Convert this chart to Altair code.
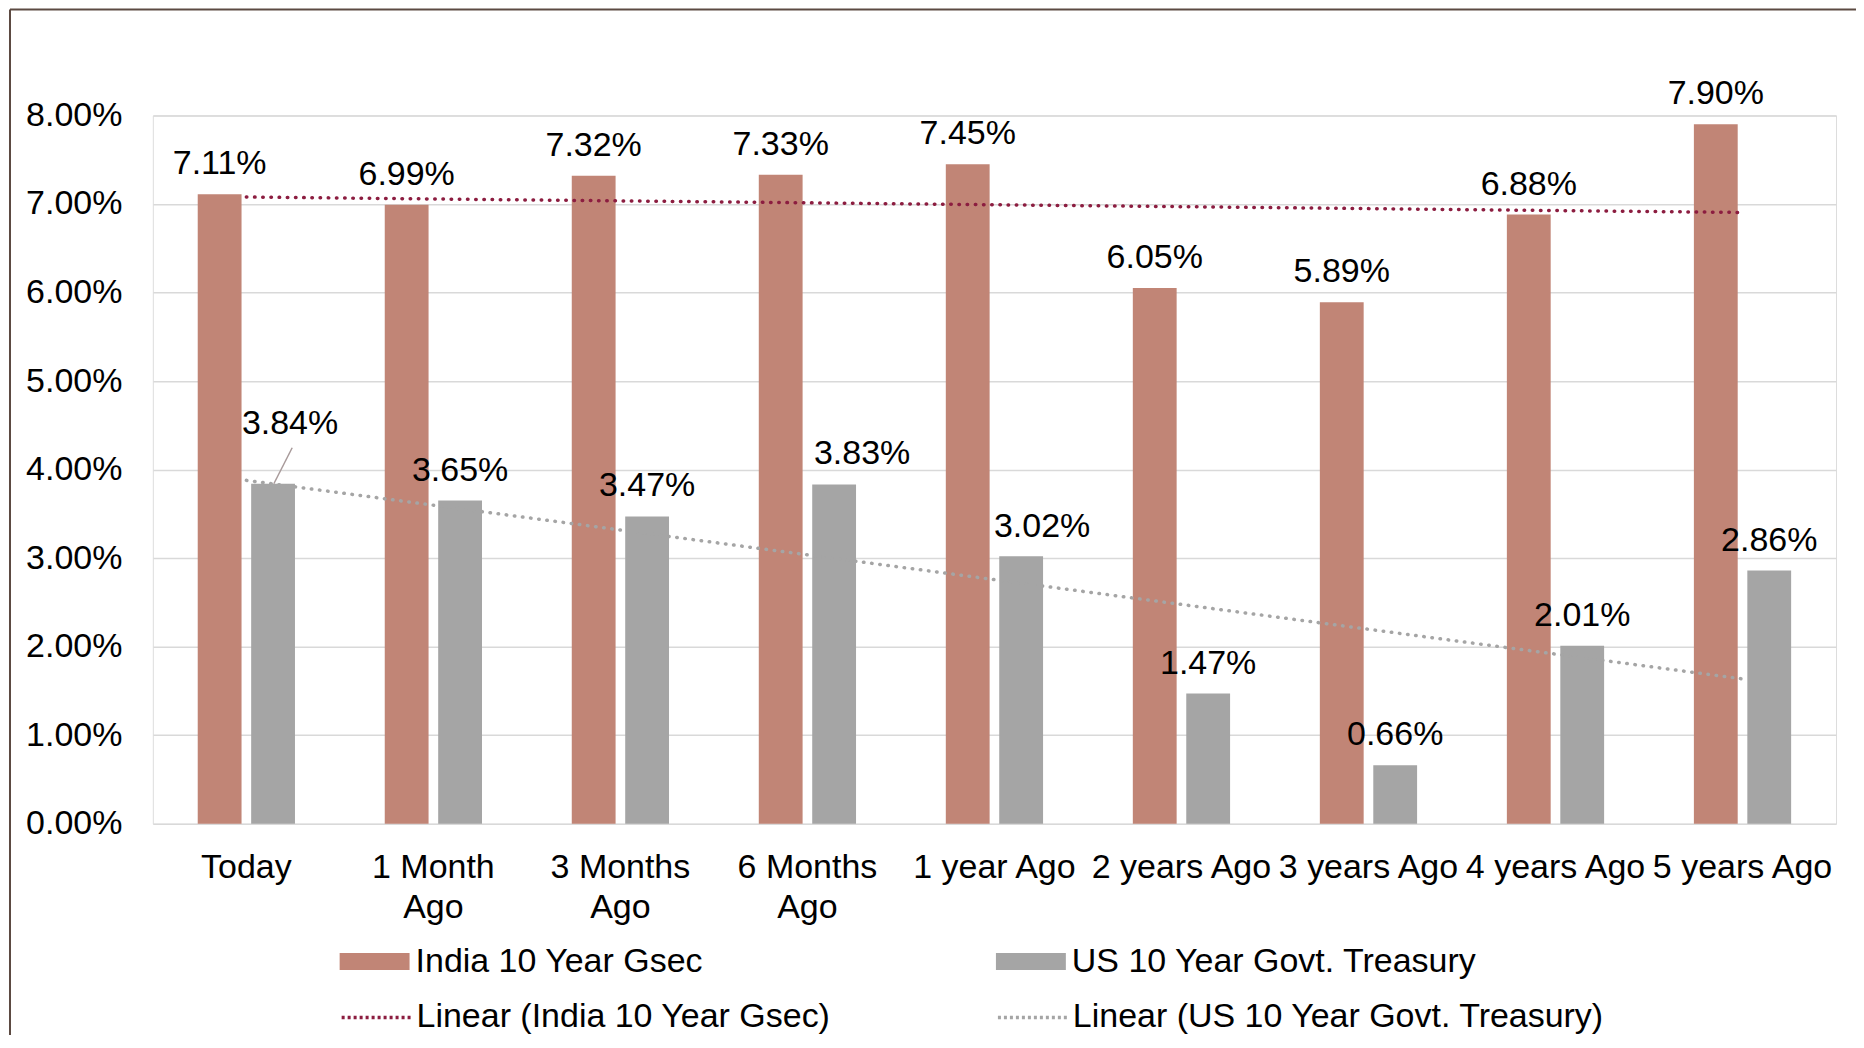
import json
import altair as alt
import pandas as pd

categories = ["Today", "1 Month Ago", "3 Months Ago", "6 Months Ago", "1 year Ago",
              "2 years Ago", "3 years Ago", "4 years Ago", "5 years Ago"]
series_names = ["India 10 Year Gsec", "US 10 Year Govt. Treasury"]
india_values = [7.11, 6.99, 7.32, 7.33, 7.45, 6.05, 5.89, 6.88, 7.90]
us_values = [3.84, 3.65, 3.47, 3.83, 3.02, 1.47, 0.66, 2.01, 2.86]
y_ticks = [0, 1, 2, 3, 4, 5, 6, 7, 8]
trend_names = ["Linear (India 10 Year Gsec)", "Linear (US 10 Year Govt. Treasury)"]

bar_colors = ["#C18576", "#A5A5A5"]
trend_colors = ["#8C1D40", "#A5A5A5"]

rows = []
for s, vals in zip(series_names, [india_values, us_values]):
    for c, v in zip(categories, vals):
        rows.append({"cat": c, "series": s, "value": v})
df = pd.DataFrame(rows)

cat_js = json.dumps(categories)
FONT = "Liberation Sans"
FS = 34

x_enc = alt.X(
    "cat:N", sort=categories,
    scale=alt.Scale(paddingInner=0.48, paddingOuter=0.24),
    axis=alt.Axis(title=None, domain=False, ticks=False, grid=False, labelAngle=0,
                  labelFontSize=FS, labelFont=FONT, labelColor="black", labelPadding=27,
                  labelLineHeight=40, labelOverlap=False, labelLimit=0,
                  labelExpr="indexof(datum.label, 'Month') >= 0 ? [replace(datum.label, ' Ago', ''), 'Ago'] : datum.label"),
)
xoff_enc = alt.XOffset("series:N", sort=series_names,
                       scale=alt.Scale(paddingInner=0.18, paddingOuter=0))
y_enc = alt.Y(
    "value:Q", scale=alt.Scale(domain=[0, 8], nice=False),
    axis=alt.Axis(title=None, values=y_ticks, domain=False, ticks=False,
                  gridColor="#D9D9D9", gridWidth=1.5,
                  labelExpr="format(datum.value, '.2f') + '%'",
                  labelFontSize=FS, labelFont=FONT, labelColor="black", labelPadding=31),
)

base = alt.Chart(df)

bars = base.mark_bar().encode(
    x=x_enc, xOffset=xoff_enc, y=y_enc,
    color=alt.Color("series:N", scale=alt.Scale(domain=series_names, range=bar_colors),
                    legend=alt.Legend(title=None, orient="none", legendX=187, legendY=812,
                                      direction="horizontal", columns=2, columnPadding=293,
                                      symbolType="M-1,-0.243H1V0.243H-1Z", symbolSize=4900,
                                      symbolStrokeWidth=0, labelFontSize=FS, labelFont=FONT,
                                      labelColor="black", labelOffset=6, labelLimit=0)),
)

trend = base.transform_calculate(
    idx=f"indexof({cat_js}, datum.cat) + 1"
).transform_regression(
    "idx", "value", groupby=["series"], method="linear"
).transform_calculate(
    cat=f"{cat_js}[round(datum.idx) - 1]",
    trend="'Linear (' + datum.series + ')'",
).mark_line(strokeWidth=3.5, strokeDash=[0.5, 7.7], strokeCap="round").encode(
    x=alt.X("cat:N", sort=categories),
    y=alt.Y("value:Q"),
    stroke=alt.Stroke("trend:N", scale=alt.Scale(domain=trend_names, range=trend_colors),
                      legend=alt.Legend(title=None, orient="none", legendX=187, legendY=866,
                                        direction="horizontal", columns=2, columnPadding=160,
                                        symbolType="stroke", symbolSize=4900,
                                        symbolStrokeWidth=3.5, symbolDash=[3, 3],
                                        labelFontSize=FS, labelFont=FONT, labelColor="black",
                                        labelOffset=3, labelLimit=0)),
)

labeled = base.transform_calculate(label="format(datum.value, '.2f') + '%'")
nudged = {
    ("Today", series_names[1]): (17, -60),
    ("6 Months Ago", series_names[1]): (28, -31),
    ("1 year Ago", series_names[1]): (21, -29),
}
nudge_expr = " || ".join(
    f"(datum.cat == '{c}' && datum.series == '{s}')" for (c, s) in nudged
)

labels_main = labeled.transform_filter(f"!({nudge_expr})").mark_text(
    fontSize=FS, font=FONT, baseline="middle", dy=-30, color="black"
).encode(x=alt.X("cat:N", sort=categories), xOffset=xoff_enc, y="value:Q", text="label:N")

nudge_layers = []
for (c, s), (dx, dy) in nudged.items():
    nudge_layers.append(
        labeled.transform_filter(f"datum.cat == '{c}' && datum.series == '{s}'").mark_text(
            fontSize=FS, font=FONT, baseline="middle", dx=dx, dy=dy, color="black"
        ).encode(x=alt.X("cat:N", sort=categories), xOffset=xoff_enc, y="value:Q", text="label:N")
    )

leader = base.transform_filter(
    f"datum.cat == 'Today' && datum.series == '{series_names[1]}'"
).mark_rule(color="#A89A9A", strokeWidth=1.5, y2Offset=-36).encode(
    x=alt.X("cat:N", sort=categories, bandPosition=0.7826),
    x2=alt.X2("cat", bandPosition=0.9713),
    y="value:Q", y2="value",
)

frame = alt.Data(values=[{}])
border_top = alt.Chart(frame).mark_rule(color="#5C4A42", strokeWidth=2).encode(
    x=alt.value(-143), x2=alt.value(1705), y=alt.value(-106))
border_left = alt.Chart(frame).mark_rule(color="#5C4A42", strokeWidth=2).encode(
    x=alt.value(-143), y=alt.value(-106), y2=alt.value(1000))

chart = alt.layer(
    border_top, border_left, bars, trend, leader, labels_main, *nudge_layers
).properties(
    width=1685, height=709,
    padding={"left": 145, "top": 107, "right": 20, "bottom": 211},
    autosize=alt.AutoSizeParams(type="none"),
    background="white",
).configure_view(stroke=None).configure(font=FONT)

chart.save("out.html", embed_options={"renderer": "svg", "actions": False})
